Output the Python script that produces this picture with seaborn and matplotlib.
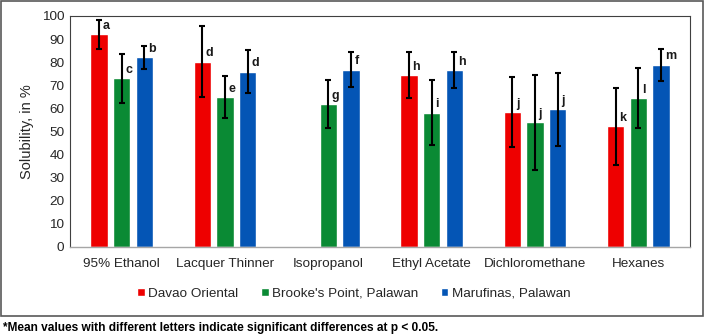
import numpy as np
import pandas as pd
import matplotlib.pyplot as plt
import seaborn as sns
from matplotlib.patches import Rectangle

solvents = ['95% Ethanol', 'Lacquer Thinner', 'Isopropanol', 'Ethyl Acetate',
            'Dichloromethane', 'Hexanes']
sites = ['Davao Oriental', "Brooke's Point, Palawan", 'Marufinas, Palawan']

davao = [92.0, 80.2, np.nan, 74.3, 58.4, 52.2]
davao_err = [6.2, 15.3, np.nan, 10.0, 15.0, 16.6]
brooke = [73.0, 64.9, 61.7, 58.1, 53.9, 64.4]
brooke_err = [10.7, 9.0, 10.4, 14.0, 20.7, 12.9]
marufinas = [82.1, 75.9, 76.7, 76.6, 59.6, 78.9]
marufinas_err = [5.0, 9.2, 7.6, 7.7, 15.7, 7.0]

davao_letters = ['a', 'd', '', 'h', 'j', 'k']
brooke_letters = ['c', 'e', 'g', 'i', 'j', 'l']
marufinas_letters = ['b', 'd', 'f', 'h', 'j', 'm']

colors = ['#EE0000', '#0A8A34', '#0455B5']

values = [davao, brooke, marufinas]
errors = [davao_err, brooke_err, marufinas_err]
letters = [davao_letters, brooke_letters, marufinas_letters]

rows = []
for site, vals in zip(sites, values):
    for solvent, v in zip(solvents, vals):
        rows.append({'Solvent': solvent, 'Site': site, 'Solubility': v})
df = pd.DataFrame(rows)

sns.set_theme(style='white')
plt.rcParams['font.family'] = ['Liberation Sans', 'DejaVu Sans']

fig = plt.figure(figsize=(7.05, 3.36), dpi=100)
ax = fig.add_axes([0.0993, 0.2649, 0.8794, 0.6875])

sns.barplot(data=df, x='Solvent', y='Solubility', hue='Site', order=solvents,
            hue_order=sites, palette=colors, width=0.66, gap=0.23,
            errorbar=None, saturation=1, ax=ax)

# error bars and significance letters, placed on the drawn bars
bar_containers = list(ax.containers)
for k, container in enumerate(bar_containers):
    for bar in container.patches:
        h = bar.get_height()
        if np.isnan(h) or h == 0:
            continue
        cx = bar.get_x() + bar.get_width() / 2
        i = int(round(cx))
        err = errors[k][i]
        ax.errorbar(cx, h, yerr=err, fmt='none', ecolor='black',
                    elinewidth=1.5, capsize=2.3, capthick=1.5, zorder=3)
        ax.text(cx + 0.035, h + 3.7, letters[k][i], ha='left', va='center',
                fontsize=9, fontweight='bold', color='#1a1a1a')

ax.set_ylim(0, 100)
ax.set_yticks(range(0, 101, 10))
ax.set_xlim(-0.5, 5.5)
ax.set_xlabel('')
ax.set_ylabel('Solubility, in %', fontsize=10.5, color='#262626', labelpad=6)
ax.tick_params(axis='both', labelsize=9.7, colors='#262626', length=0, pad=4)
ax.tick_params(axis='x', pad=8)
for side in ['left', 'top', 'right']:
    ax.spines[side].set_color('#404040')
    ax.spines[side].set_linewidth(0.8)
ax.spines['bottom'].set_color('#A6A6A6')
ax.spines['bottom'].set_linewidth(1.0)

handles, labels = ax.get_legend_handles_labels()
ax.get_legend().remove()
fig.legend(handles, labels, loc='center', bbox_to_anchor=(0.502, 0.125),
           ncol=3, frameon=False, fontsize=9.7, handlelength=0.55,
           handleheight=0.55, handletextpad=0.25, columnspacing=1.7,
           labelcolor='#262626')

# outer frame around the chart
fig.patches.append(Rectangle((0.0014, 0.0595), 0.9957, 0.9375,
                             transform=fig.transFigure, fill=False,
                             edgecolor='#595959', linewidth=1.2))

fig.text(0.004, 0.024, '*Mean values with different letters indicate significant differences at p < 0.05.',
         ha='left', va='center', fontsize=8.6, fontweight='bold', color='black')

fig.savefig('out.png', dpi=100)
